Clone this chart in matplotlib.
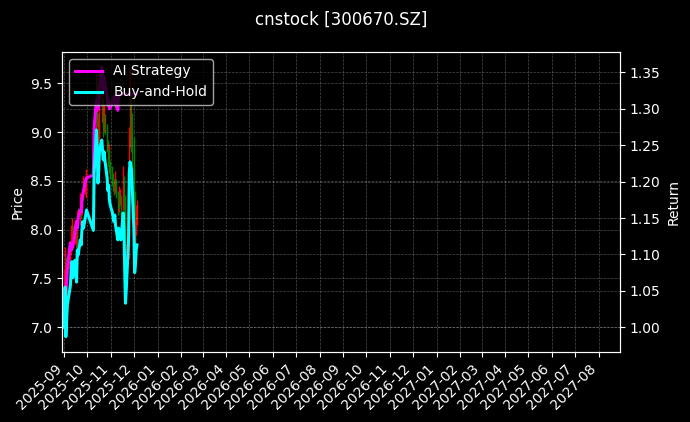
import numpy as np
import pandas as pd
import matplotlib
matplotlib.use("Agg")
import matplotlib.pyplot as plt
import matplotlib.dates as mdates

plt.style.use("dark_background")

# trading days (Sep - early Dec 2025, National Day holiday skipped)
dates = pd.to_datetime([
    "2025-09-01", "2025-09-02", "2025-09-03", "2025-09-04", "2025-09-05",
    "2025-09-08", "2025-09-09", "2025-09-10", "2025-09-11", "2025-09-12",
    "2025-09-15", "2025-09-16", "2025-09-17", "2025-09-18", "2025-09-19",
    "2025-09-22", "2025-09-23", "2025-09-24", "2025-09-25", "2025-09-26",
    "2025-09-29", "2025-09-30", "2025-10-09", "2025-10-10", "2025-10-13",
    "2025-10-14", "2025-10-15", "2025-10-16", "2025-10-17", "2025-10-20",
    "2025-10-21", "2025-10-22", "2025-10-23", "2025-10-24", "2025-10-27",
    "2025-10-28", "2025-10-29", "2025-10-30", "2025-10-31", "2025-11-03",
    "2025-11-04", "2025-11-05", "2025-11-06", "2025-11-07", "2025-11-10",
    "2025-11-11", "2025-11-12", "2025-11-13", "2025-11-14", "2025-11-17",
    "2025-11-18", "2025-11-19", "2025-11-20", "2025-11-21", "2025-11-24",
    "2025-11-25", "2025-11-26", "2025-11-27", "2025-11-28", "2025-12-01",
    "2025-12-02", "2025-12-03", "2025-12-04", "2025-12-05",
])

open_ = [7.30, 7.38, 7.70, 7.25, 7.40, 7.60, 7.70, 7.80, 7.95, 8.00,
         7.88, 8.02, 7.95, 7.85, 8.12, 8.10, 8.22, 8.20, 8.33, 8.42,
         8.36, 8.48, 8.55, 8.35, 8.95, 9.30, 9.10, 8.82, 8.95, 9.15,
         9.25, 9.12, 9.05, 9.12, 9.02, 8.85, 8.72, 8.78, 8.64, 8.58,
         8.50, 8.45, 8.42, 8.48, 8.36, 8.22, 8.35, 8.28, 8.30, 8.25,
         8.48, 8.30, 7.90, 7.60, 7.75, 8.25, 8.95, 9.00, 8.95, 8.90,
         8.30, 7.88, 7.98, 8.12]
high = [7.60, 7.82, 7.72, 7.50, 7.65, 7.80, 7.88, 8.05, 8.12, 8.05,
        8.10, 8.08, 7.98, 8.20, 8.22, 8.38, 8.30, 8.40, 8.55, 8.48,
        8.58, 8.62, 8.60, 9.05, 9.60, 9.55, 9.20, 9.10, 9.30, 9.50,
        9.35, 9.20, 9.28, 9.18, 9.08, 8.92, 8.88, 8.82, 8.70, 8.65,
        8.58, 8.52, 8.60, 8.52, 8.40, 8.45, 8.40, 8.42, 8.35, 8.65,
        8.55, 8.35, 7.98, 7.85, 8.35, 9.05, 9.65, 9.40, 9.20, 8.95,
        8.40, 8.10, 8.25, 8.30]
low = [7.28, 7.35, 7.20, 7.22, 7.38, 7.55, 7.66, 7.75, 7.90, 7.80,
       7.85, 7.90, 7.75, 7.82, 8.02, 8.05, 8.12, 8.15, 8.30, 8.30,
       8.32, 8.40, 8.28, 8.32, 8.90, 9.05, 8.75, 8.78, 8.90, 9.10,
       9.05, 8.95, 9.00, 8.98, 8.80, 8.65, 8.68, 8.58, 8.52, 8.45,
       8.40, 8.36, 8.38, 8.32, 8.15, 8.18, 8.22, 8.25, 8.15, 8.20,
       8.28, 7.88, 7.52, 7.55, 7.70, 8.20, 8.85, 8.80, 8.60, 8.25,
       7.85, 7.82, 7.95, 8.05]
close = [7.35, 7.75, 7.25, 7.42, 7.58, 7.72, 7.78, 7.93, 8.01, 7.85,
         8.03, 7.95, 7.81, 8.13, 8.08, 8.23, 8.18, 8.33, 8.42, 8.35,
         8.48, 8.53, 8.33, 8.91, 9.34, 9.14, 8.81, 8.94, 9.14, 9.24,
         9.14, 9.04, 9.12, 9.04, 8.86, 8.73, 8.78, 8.64, 8.58, 8.50,
         8.45, 8.42, 8.48, 8.38, 8.23, 8.35, 8.28, 8.31, 8.23, 8.50,
         8.33, 7.93, 7.59, 7.72, 8.23, 8.91, 9.02, 8.98, 8.94, 8.33,
         7.90, 7.98, 8.13, 8.18]

ai_return = [1.000, 1.037, 1.051, 1.065, 1.081, 1.109, 1.116, 1.106, 1.112, 1.110,
             1.131, 1.140, 1.145, 1.136, 1.150, 1.161, 1.158, 1.175, 1.182, 1.186,
             1.202, 1.205, 1.209, 1.275, 1.312, 1.298, 1.301, 1.305, 1.330, 1.357,
             1.340, 1.325, 1.345, 1.335, 1.318, 1.305, 1.312, 1.300, 1.302, 1.308,
             1.315, 1.310, 1.318, 1.306, 1.298, 1.320, 1.320, 1.320, 1.320, 1.320,
             1.320, 1.320, 1.320, 1.320, 1.320, 1.320, 1.320, 1.320, 1.320, 1.320,
             1.320, 1.320, 1.320, 1.320]
bh_return = [1.000, 1.055, 0.987, 1.010, 1.031, 1.051, 1.058, 1.079, 1.090, 1.068,
             1.092, 1.081, 1.062, 1.106, 1.099, 1.120, 1.113, 1.134, 1.145, 1.136,
             1.154, 1.161, 1.133, 1.212, 1.271, 1.243, 1.198, 1.216, 1.243, 1.257,
             1.243, 1.230, 1.241, 1.230, 1.205, 1.188, 1.195, 1.175, 1.168, 1.157,
             1.150, 1.145, 1.154, 1.140, 1.120, 1.136, 1.127, 1.131, 1.120, 1.157,
             1.134, 1.079, 1.033, 1.051, 1.120, 1.212, 1.227, 1.222, 1.216, 1.134,
             1.075, 1.086, 1.106, 1.113]

fig = plt.figure(figsize=(6.9, 4.22), dpi=100)
ax = fig.add_axes([0.0899, 0.1659, 0.8087, 0.7109])
ax2 = ax.twinx()

# candles: red up / green down
x = mdates.date2num(dates)
o = np.array(open_)
c = np.array(close)
up = c >= o
colors = np.where(up, "red", "green")
ax.vlines(x, low, high, colors=colors, linewidth=1.0)
ax.bar(x, np.abs(c - o), bottom=np.minimum(o, c), width=0.6, color=colors)

ax2.plot(dates, ai_return, color="magenta", linewidth=2.2, label="AI Strategy")
ax2.plot(dates, bh_return, color="cyan", linewidth=2.2, label="Buy-and-Hold")

ax.set_ylim(6.747, 9.82)
ax2.set_ylim(0.966, 1.378)
ax.set_xlim(pd.Timestamp("2025-08-29"), pd.Timestamp("2027-08-29"))

ax.xaxis.set_major_locator(mdates.MonthLocator())
ax.xaxis.set_major_formatter(mdates.DateFormatter("%Y-%m"))
plt.setp(ax.get_xticklabels(), rotation=45, ha="right")

ax.set_ylabel("Price")
ax2.set_ylabel("Return")
ax.grid(True, linestyle="--", linewidth=0.5, alpha=0.3)
ax2.grid(True, linestyle="--", linewidth=0.5, alpha=0.3)

ax2.legend(loc="upper left")
fig.suptitle("cnstock [300670.SZ]", x=0.494, y=0.975, fontsize=12)

fig.savefig("out.png", dpi=100)
